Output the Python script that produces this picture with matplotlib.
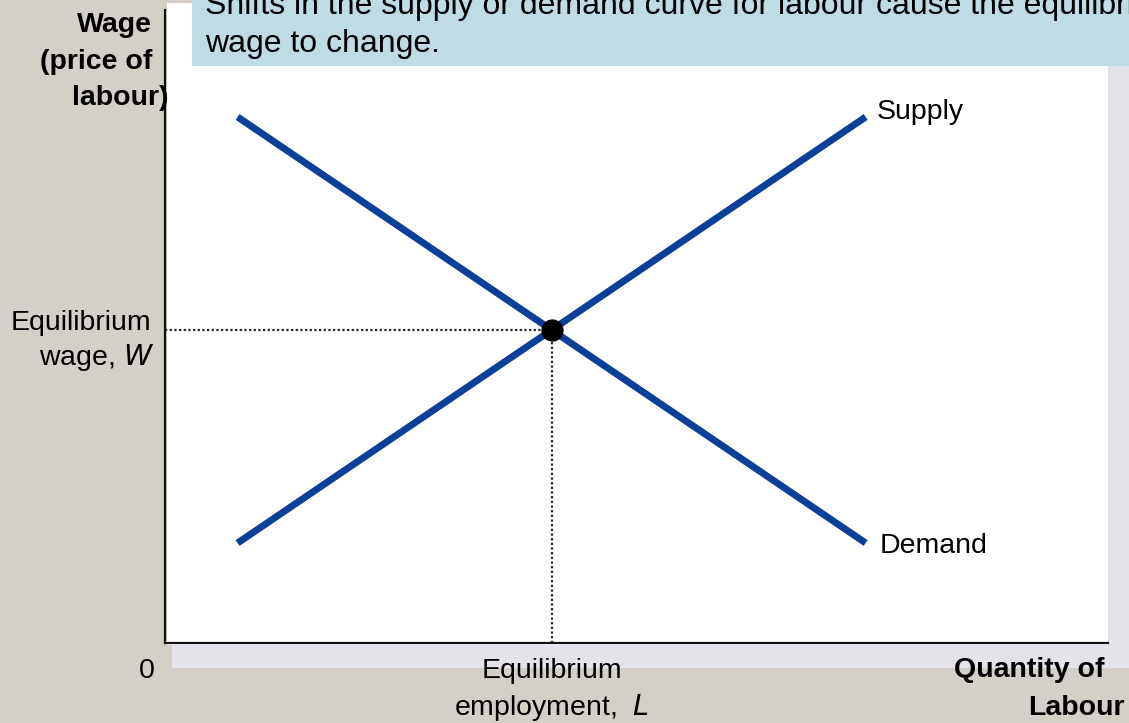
import matplotlib
matplotlib.use("Agg")
import matplotlib.pyplot as plt
from matplotlib.patches import Rectangle
from matplotlib.transforms import blended_transform_factory

# Labour market: supply and demand lines (quantity, wage), in chart units
supply_q = [0.77, 7.43]
supply_w = [1.58, 8.31]
demand_q = [0.77, 7.43]
demand_w = [8.31, 1.58]
equilibrium_q = 4.10
equilibrium_w = 4.945

title_lines = ["Shifts in the supply or demand curve for labour cause the equilibrium",
               "wage to change."]
curve_names = ["Supply", "Demand"]

W, H = 1129, 723
plt.rcParams['font.family'] = ['Liberation Sans', 'DejaVu Sans']

fig = plt.figure(figsize=(W / 100, H / 100), dpi=100)
fig.patch.set_facecolor('#d4d0c7')


def fx(px):
    return px / W


def fy(py):
    return 1 - py / H


# panel, its soft shadow and the caption box
shadow = '#e4e3e9'
fig.patches.append(Rectangle((fx(172), fy(668)), fx(1129 - 172), (668 - 645) / H,
                             transform=fig.transFigure, facecolor=shadow, edgecolor='none', zorder=-3))
fig.patches.append(Rectangle((fx(1108), fy(668)), fx(21), (668 - 60) / H,
                             transform=fig.transFigure, facecolor=shadow, edgecolor='none', zorder=-3))
fig.patches.append(Rectangle((fx(167), fy(645)), fx(1108 - 167), (645 - 3) / H,
                             transform=fig.transFigure, facecolor='white', edgecolor='none', zorder=-2))
fig.patches.append(Rectangle((fx(192), fy(66)), fx(1129 - 192), 66 / H,
                             transform=fig.transFigure, facecolor='#bddce3', edgecolor='none', zorder=-1))
fig.text(fx(205), fy(14), title_lines[0], fontsize=23, color='black', va='baseline', ha='left', zorder=5)
fig.text(fx(205), fy(52), title_lines[1], fontsize=23, color='black', va='baseline', ha='left', zorder=5)

ax = fig.add_axes([fx(165), fy(643), fx(1108 - 165), (643 - 10) / H])
ax.set_zorder(2)
ax.set_facecolor('none')
ax.set_xlim(0, 10)
ax.set_ylim(0, 10)
for s in ['top', 'right']:
    ax.spines[s].set_visible(False)
for s in ['left', 'bottom']:
    ax.spines[s].set_linewidth(1.6)
    ax.spines[s].set_color('#111111')
ax.set_xticks([])
ax.set_yticks([])

blue = '#0c3f98'
ax.plot(supply_q, supply_w, color=blue, lw=5.0, solid_capstyle='butt', zorder=3)
ax.plot(demand_q, demand_w, color=blue, lw=5.0, solid_capstyle='butt', zorder=3)

dot_style = dict(color='#222222', lw=1.6, linestyle=(0, (1, 1.1)), zorder=2)
ax.plot([0, equilibrium_q], [equilibrium_w, equilibrium_w], **dot_style)
ax.plot([equilibrium_q, equilibrium_q], [0, equilibrium_w], **dot_style)
ax.plot([equilibrium_q], [equilibrium_w], 'o', color='black', markersize=15, zorder=4)

fs = 20.5
# curve names at the upper-right ends of the lines
ax.annotate(curve_names[0], (supply_q[1], supply_w[1]), xytext=(11, -2), textcoords='offset pixels',
            fontsize=fs, va='baseline', ha='left', annotation_clip=False)
ax.annotate(curve_names[1], (demand_q[1], demand_w[1]), xytext=(14, -10), textcoords='offset pixels',
            fontsize=fs, va='baseline', ha='left', annotation_clip=False)

# axis labels
bold = dict(fontsize=fs, fontweight='bold', va='baseline')
fig.text(fx(152), fy(32), "Wage", ha='right', **bold)
fig.text(fx(152), fy(69), "(price of", ha='right', **bold)
fig.text(fx(168), fy(105), "labour)", ha='right', **bold)
fig.text(fx(954), fy(677), "Quantity of", ha='left', **bold)
fig.text(fx(1125), fy(715), "Labour", ha='right', **bold)

fig.text(fx(147), fy(678), "0", ha='center', va='baseline', fontsize=fs)

tx = blended_transform_factory(ax.transData, fig.transFigure)
ax.text(equilibrium_q, fy(678), "Equilibrium", transform=tx, ha='center', va='baseline', fontsize=fs,
        clip_on=False)
ax.text(equilibrium_q, fy(715), "employment,  $\\mathit{L}$", transform=tx, ha='center', va='baseline',
        fontsize=fs, clip_on=False)

ty = blended_transform_factory(fig.transFigure, ax.transData)
ax.text(fx(151), equilibrium_w, "Equilibrium", transform=ty, ha='right', va='baseline', fontsize=fs,
        clip_on=False)
fig.text(fx(154), fy(365), "wage, $\\mathit{W}$", ha='right', va='baseline', fontsize=fs)

fig.savefig('out.png', dpi=100, facecolor=fig.get_facecolor())
